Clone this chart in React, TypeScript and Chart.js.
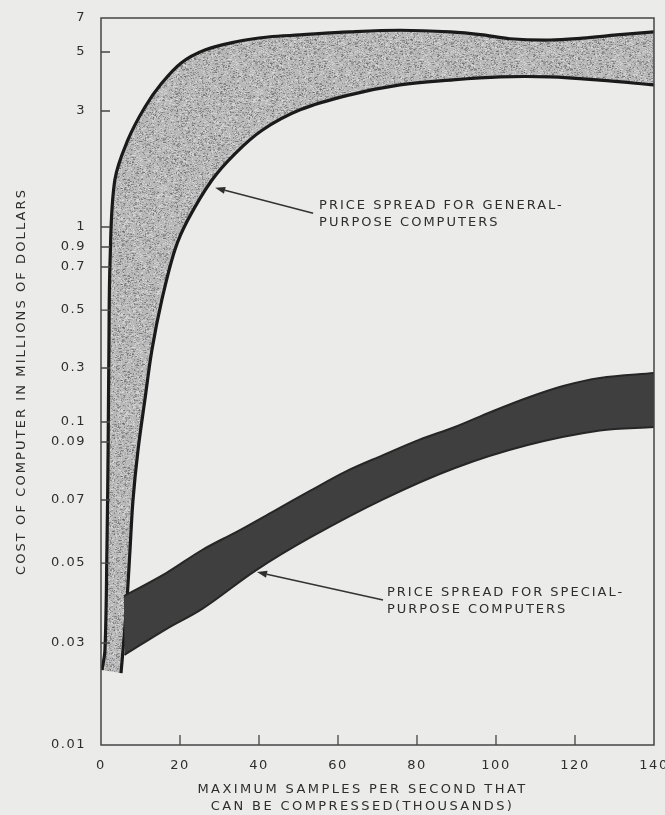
import React, { useEffect, useRef } from 'react';
import { Chart, LinearScale, registerables } from 'chart.js';

// ---------- data (x: thousands of samples / s, y: millions of dollars) ----------
const xTickValues = [0, 20, 40, 60, 80, 100, 120, 140];
const yTickValues = [0.01, 0.03, 0.05, 0.07, 0.09, 0.1, 0.3, 0.5, 0.7, 0.9, 1, 3, 5, 7];
// the original hand-drawn axis is irregular: relative height of each tick (0 = bottom, 1 = top)
const yTickHeights = [0, 0.1403, 0.2503, 0.337, 0.4168, 0.4443, 0.5186, 0.5983, 0.6575, 0.685, 0.7125, 0.8721, 0.9532, 1];

const generalUpperX = [0.25, 1.0, 1.5, 1.8, 2.0, 2.3, 3.5, 6.8, 11.1, 15.4, 20.3, 26.3, 33.9, 42.3, 50.4, 63.0, 75.7, 88.4, 96.7, 103.5, 113.7, 122.0, 130.6, 140];
const generalUpperY = [0.0224, 0.0278, 0.0536, 0.0869, 0.352, 0.764, 1.56, 2.28, 3.1, 3.82, 4.55, 5.1, 5.52, 5.8, 5.92, 6.1, 6.2, 6.1, 5.92, 5.7, 5.63, 5.74, 5.92, 6.1];

const generalLowerX = [5.06, 5.57, 6.58, 7.34, 8.1, 9.37, 11.1, 12.9, 15.4, 18.7, 22.0, 28.1, 33.9, 40.8, 50.4, 63.0, 75.7, 88.4, 101, 113.7, 126.3, 140];
const generalLowerY = [0.0217, 0.0278, 0.0395, 0.0536, 0.07, 0.0869, 0.156, 0.352, 0.541, 0.867, 1.07, 1.56, 2.0, 2.5, 3.03, 3.45, 3.76, 3.92, 4.03, 4.03, 3.92, 3.76];

const specialUpperX = [5.8, 16.5, 25.6, 34.7, 43.8, 52.9, 62.3, 71.4, 80.5, 89.6, 98.7, 107.8, 117.0, 126.3, 140];
const specialUpperY = [0.0405, 0.0469, 0.0536, 0.0593, 0.066, 0.0728, 0.0794, 0.085, 0.091, 0.0974, 0.1226, 0.163, 0.208, 0.245, 0.271];

const specialLowerX = [5.95, 16.5, 25.6, 39.3, 53.1, 71.4, 89.6, 108, 126.3, 140];
const specialLowerY = [0.0264, 0.0328, 0.0373, 0.0478, 0.0574, 0.0702, 0.0804, 0.0888, 0.0956, 0.0974];

const xTitle = ['MAXIMUM SAMPLES PER SECOND THAT', 'CAN BE COMPRESSED(THOUSANDS)'];
const yTitle = 'COST OF COMPUTER IN MILLIONS OF DOLLARS';

const notes = [
  { lines: ['PRICE SPREAD FOR GENERAL-', 'PURPOSE COMPUTERS'], text: { x: 55.2, y: 1.22 }, from: { x: 53.7, y: 1.14 }, to: { x: 28.9, y: 1.45 } },
  { lines: ['PRICE SPREAD FOR SPECIAL-', 'PURPOSE COMPUTERS'], text: { x: 72.4, y: 0.0413 }, from: { x: 71.4, y: 0.0395 }, to: { x: 39.5, y: 0.0472 } },
];

// ---------- irregular y scale ----------
function valueToFraction(v: number): number {
  const n = yTickValues.length;
  let i = 0;
  if (v <= yTickValues[0]) i = 0;
  else if (v >= yTickValues[n - 1]) i = n - 2;
  else { while (i < n - 2 && v > yTickValues[i + 1]) i++; }
  const v0 = yTickValues[i], v1 = yTickValues[i + 1];
  const h0 = yTickHeights[i], h1 = yTickHeights[i + 1];
  const t = Math.log(v / v0) / Math.log(v1 / v0);
  return h0 + t * (h1 - h0);
}
function fractionToValue(f: number): number {
  const n = yTickHeights.length;
  let i = 0;
  while (i < n - 2 && f > yTickHeights[i + 1]) i++;
  const v0 = yTickValues[i], v1 = yTickValues[i + 1];
  const h0 = yTickHeights[i], h1 = yTickHeights[i + 1];
  const t = (f - h0) / (h1 - h0);
  return v0 * Math.pow(v1 / v0, t);
}

class IrregularScale extends LinearScale {
  static id = 'irregular';
  static defaults = { ticks: { callback: (v: number) => String(v) } };
  buildTicks() {
    return yTickValues.map((value) => ({ value }));
  }
  getPixelForValue(value: number) {
    const f = valueToFraction(value);
    return this.bottom - f * (this.bottom - this.top);
  }
  getValueForPixel(pixel: number) {
    return fractionToValue((this.bottom - pixel) / (this.bottom - this.top));
  }
}

Chart.register(...registerables, IrregularScale as any);

type P = { x: number; y: number };
const toPoints = (xs: number[], ys: number[]): P[] => xs.map((x, i) => ({ x, y: ys[i] }));
// closed outline: upper edge, then lower edge backwards (turn points doubled so the
// curve's ends match the separate outline strokes)
const bandShape = (upper: P[], lower: P[]): P[] => {
  const lo = [...lower].reverse();
  return [...upper, upper[upper.length - 1], lo[0], ...lo];
};

function makeStipple(): CanvasPattern | string {
  const c = document.createElement('canvas');
  c.width = 96; c.height = 96;
  const g = c.getContext('2d');
  if (!g) return '#b4b4b4';
  g.fillStyle = '#b8b8b8';
  g.fillRect(0, 0, 96, 96);
  let seed = 987654;
  const rnd = () => { seed = (seed * 1103515245 + 12345) % 2147483648; return seed / 2147483648; };
  for (let i = 0; i < 4200; i++) {
    const x = Math.floor(rnd() * 96), y = Math.floor(rnd() * 96);
    const s = rnd() < 0.7 ? 1 : 2;
    const dark = rnd() < 0.5;
    g.fillStyle = dark ? `rgba(95,95,95,${0.25 + rnd() * 0.35})` : `rgba(225,225,225,${0.3 + rnd() * 0.4})`;
    g.fillRect(x, y, s, 1);
  }
  return g.createPattern(c, 'repeat') || '#b4b4b4';
}

const FONT = '"DejaVu Sans", sans-serif';
const INK = '#2e2e2e';

const spacingPlugin = {
  id: 'letterSpacing',
  beforeDraw(chart: any) {
    const ctx = chart.ctx;
    Object.values(chart.scales).forEach((s: any) => {
      if (s.__spaced) return;
      s.__spaced = true;
      const dl = s.drawLabels.bind(s);
      s.drawLabels = (area: any) => { ctx.save(); ctx.letterSpacing = '1.5px'; dl(area); ctx.restore(); };
      const dt = s.drawTitle.bind(s);
      s.drawTitle = () => {
        ctx.save();
        if (s.axis === 'x') { ctx.letterSpacing = '2.4px'; ctx.translate(-15, 0); }
        else { ctx.letterSpacing = '2.1px'; }
        dt();
        ctx.restore();
      };
    });
  },
};

const framePlugin = {
  id: 'frame',
  afterDatasetsDraw(chart: any) {
    const { ctx, chartArea: a, scales } = chart;
    ctx.save();
    ctx.strokeStyle = '#454545';
    ctx.lineWidth = 1.5;
    ctx.strokeRect(a.left, a.top, a.right - a.left, a.bottom - a.top);
    ctx.lineWidth = 1.3;
    ctx.beginPath();
    yTickValues.slice(1, -1).forEach((v) => {
      const y = scales.y.getPixelForValue(v);
      ctx.moveTo(a.left, y); ctx.lineTo(a.left + 9, y);
    });
    xTickValues.slice(1, -1).forEach((v) => {
      const x = scales.x.getPixelForValue(v);
      ctx.moveTo(x, a.bottom); ctx.lineTo(x, a.bottom - 10);
    });
    ctx.stroke();

    // annotations
    ctx.fillStyle = INK;
    ctx.strokeStyle = '#333';
    ctx.font = `13px ${FONT}`;
    ctx.letterSpacing = '2px';
    ctx.textAlign = 'left';
    ctx.textBaseline = 'middle';
    notes.forEach((n) => {
      const tx = scales.x.getPixelForValue(n.text.x);
      const ty = scales.y.getPixelForValue(n.text.y);
      n.lines.forEach((l, i) => ctx.fillText(l, tx, ty + i * 16.5));
      const x0 = scales.x.getPixelForValue(n.from.x), y0 = scales.y.getPixelForValue(n.from.y);
      const x1 = scales.x.getPixelForValue(n.to.x), y1 = scales.y.getPixelForValue(n.to.y);
      const ang = Math.atan2(y1 - y0, x1 - x0);
      const L = 10, W = 3.5;
      const bx = x1 - L * Math.cos(ang), by = y1 - L * Math.sin(ang);
      ctx.lineWidth = 1.6;
      ctx.beginPath(); ctx.moveTo(x0, y0); ctx.lineTo(bx, by); ctx.stroke();
      ctx.beginPath();
      ctx.moveTo(x1, y1);
      ctx.lineTo(bx + W * Math.sin(ang), by - W * Math.cos(ang));
      ctx.lineTo(bx - W * Math.sin(ang), by + W * Math.cos(ang));
      ctx.closePath();
      ctx.fill();
    });
    ctx.restore();
  },
};

export default function App() {
  const ref = useRef<HTMLCanvasElement>(null);
  useEffect(() => {
    const canvas = ref.current;
    if (!canvas) return;
    const generalUpper = toPoints(generalUpperX, generalUpperY);
    const generalLower = toPoints(generalLowerX, generalLowerY);
    const specialUpper = toPoints(specialUpperX, specialUpperY);
    const specialLower = toPoints(specialLowerX, specialLowerY);
    const tension = 0.35;
    const lineBase = { fill: false, pointRadius: 0, tension, backgroundColor: 'transparent' };
    const chart = new Chart(canvas, {
      type: 'line',
      data: {
        datasets: [
          { label: 'General-purpose spread', data: bandShape(generalUpper, generalLower), fill: 'shape', backgroundColor: makeStipple() as any, borderWidth: 0, pointRadius: 0, tension, order: 5 },
          { label: 'General-purpose high', data: generalUpper, borderColor: '#1a1a1a', borderWidth: 3.2, order: 4, ...lineBase },
          { label: 'General-purpose low', data: generalLower, borderColor: '#1a1a1a', borderWidth: 3.2, order: 4, ...lineBase },
          { label: 'Special-purpose spread', data: bandShape(specialUpper, specialLower), fill: 'shape', backgroundColor: '#3f3f3f', borderWidth: 0, pointRadius: 0, tension, order: 3 },
          { label: 'Special-purpose high', data: specialUpper, borderColor: '#262626', borderWidth: 2, order: 2, ...lineBase },
          { label: 'Special-purpose low', data: specialLower, borderColor: '#262626', borderWidth: 2, order: 2, ...lineBase },
        ] as any,
      },
      options: {
        animation: false,
        responsive: true,
        maintainAspectRatio: false,
        layout: { padding: { top: 18, right: 11, left: 0, bottom: 0 } },
        plugins: { legend: { display: false }, tooltip: { enabled: false } },
        scales: {
          x: {
            type: 'linear',
            min: 0,
            max: 140,
            afterBuildTicks: (s: any) => { s.ticks = xTickValues.map((value) => ({ value })); },
            afterFit: (s: any) => { s.height = 70; s.paddingLeft = 0; s.paddingRight = 0; },
            grid: { display: false },
            border: { display: false },
            ticks: { autoSkip: false, maxRotation: 0, padding: 5, color: INK, font: { family: FONT, size: 13 }, callback: (v: any) => String(v) },
            title: { display: true, text: xTitle, color: INK, font: { family: FONT, size: 13, lineHeight: 17 / 13 }, padding: { top: 0, bottom: 0 } },
          },
          y: {
            type: 'irregular' as any,
            min: 0.01,
            max: 7,
            afterFit: (s: any) => { s.width = 101; s.paddingTop = 0; s.paddingBottom = 0; },
            grid: { display: false },
            border: { display: false },
            ticks: { autoSkip: false, padding: 7, color: INK, font: { family: FONT, size: 13 }, callback: (v: any) => String(v) },
            title: { display: true, text: yTitle, color: INK, font: { family: FONT, size: 13 }, padding: { top: 14, bottom: 0 } },
          },
        } as any,
      },
      plugins: [spacingPlugin, framePlugin],
    });
    return () => chart.destroy();
  }, []);
  return (
    <div style={{ position: 'fixed', left: 0, top: 0, width: 665, height: 815, background: '#ebebe9' }}>
      <canvas ref={ref} />
    </div>
  );
}
